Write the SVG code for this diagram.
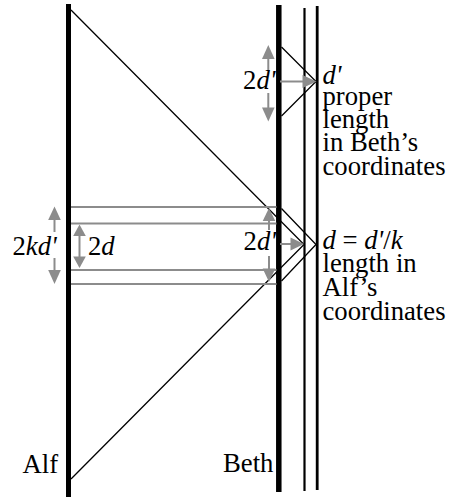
<svg xmlns="http://www.w3.org/2000/svg" width="455" height="497" viewBox="0 0 455 497">
<style>
text{font-family:'Liberation Serif','DejaVu Serif',serif;font-size:26.7px;fill:#000}
.i{font-style:italic}
.wl{stroke:#000;fill:none}
.ray{stroke:#000;stroke-width:1.3;fill:none}
.g{stroke:#8c8c8c;stroke-width:2;fill:none}
.gh{fill:#8c8c8c;stroke:none}
</style>
<rect width="455" height="497" fill="#fff"/>
<g id="worldlines">
<line id="alf" class="wl" x1="68.5" y1="4" x2="68.5" y2="497" stroke-width="5"/>
<line id="beth" class="wl" x1="278.8" y1="5" x2="278.8" y2="492" stroke-width="5.5"/>
<line id="rod-near" class="wl" x1="304.5" y1="8" x2="304.5" y2="491" stroke-width="2.2"/>
<line id="rod-far" class="wl" x1="317.2" y1="6" x2="317.2" y2="490" stroke-width="2.8"/>
</g>
<g id="connectors">
<polyline class="ray" points="71,10 304,244.5 71,479"/>
<polyline class="ray" points="281.5,208.5 316,244.5 281.5,281"/>
<polyline class="ray" points="281.5,47 316,81.5 281.5,116"/>
<g id="gray-lines">
<line class="g" x1="71" y1="207" x2="276.5" y2="207"/>
<line class="g" x1="71" y1="223.5" x2="276.5" y2="223.5"/>
<line class="g" x1="71" y1="270" x2="276.5" y2="270"/>
<line class="g" x1="71" y1="284" x2="276.5" y2="284"/>
</g>
<g id="arrows">
<line class="g" x1="268.3" y1="58" x2="268.3" y2="70"/>
<polygon class="gh" points="268.3,45 262,59 274.6,59"/>
<line class="g" x1="268.3" y1="93" x2="268.3" y2="109"/>
<polygon class="gh" points="268.3,121.5 262,107.5 274.6,107.5"/>
<line class="g" x1="280" y1="81.5" x2="304" y2="81.5"/>
<polygon class="gh" points="316.5,81.5 302.5,75 302.5,88"/>
<line class="g" x1="54.5" y1="219" x2="54.5" y2="232"/>
<polygon class="gh" points="54.5,206.5 48.2,220 60.8,220"/>
<line class="g" x1="54.5" y1="258" x2="54.5" y2="271"/>
<polygon class="gh" points="54.5,284 48.2,270 60.8,270"/>
<line class="g" x1="79.5" y1="235" x2="79.5" y2="258"/>
<polygon class="gh" points="79.5,224.5 73.2,236 85.8,236"/>
<polygon class="gh" points="79.5,268 73.2,256.5 85.8,256.5"/>
<line class="g" x1="269" y1="220" x2="269" y2="230"/>
<polygon class="gh" points="269,208 262.7,221 275.3,221"/>
<line class="g" x1="269" y1="256" x2="269" y2="270"/>
<polygon class="gh" points="269,282 262.7,268.5 275.3,268.5"/>
<line class="g" x1="280" y1="244" x2="292" y2="244"/>
<polygon class="gh" points="304,244 290.5,237.5 290.5,250.5"/>
</g>
</g>
<g id="labels">
<text x="275.5" y="89" text-anchor="end">2<tspan class="i">d'</tspan></text>
<text x="322.5" y="83.5"><tspan class="i">d'</tspan></text>
<text x="322.5" y="105">proper</text>
<text x="322.5" y="128">length</text>
<text x="322.5" y="151">in Beth’s</text>
<text x="322.5" y="175">coordinates</text>
<text x="12.5" y="255">2<tspan class="i">kd'</tspan></text>
<text x="88" y="255">2<tspan class="i">d</tspan></text>
<text x="276" y="250" text-anchor="end">2<tspan class="i">d'</tspan></text>
<text x="322.5" y="249"><tspan class="i">d</tspan> = <tspan class="i">d'</tspan>/<tspan class="i">k</tspan></text>
<text x="322.5" y="272">length in</text>
<text x="322.5" y="296">Alf’s</text>
<text x="322.5" y="320">coordinates</text>
<text id="alf-label" x="22.5" y="473">Alf</text>
<text id="beth-label" x="223" y="472">Beth</text>
</g>
</svg>
